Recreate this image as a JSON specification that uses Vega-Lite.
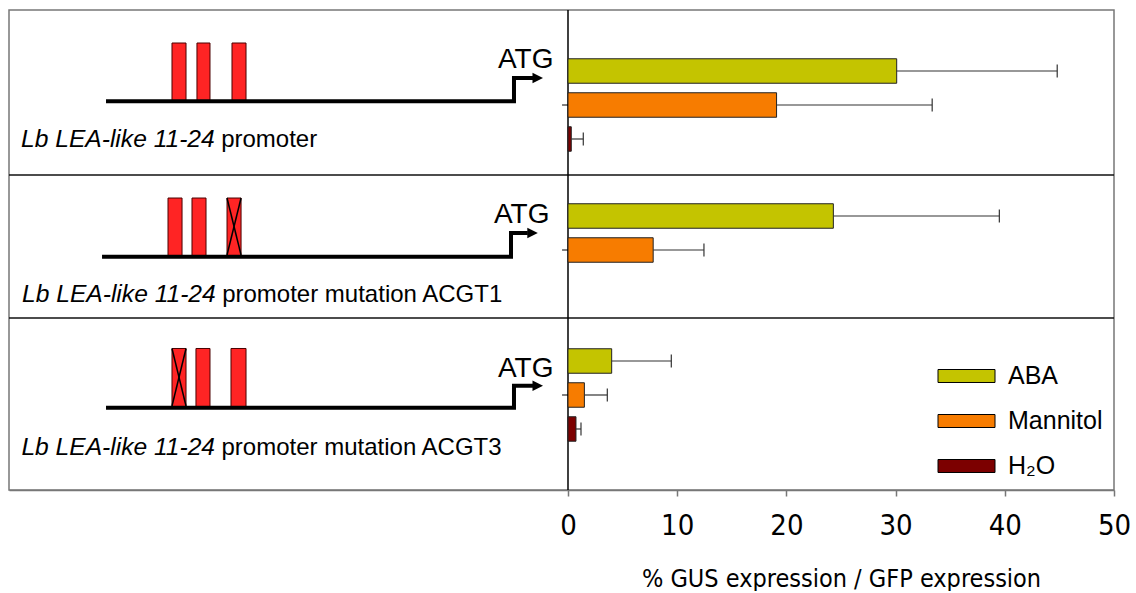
{
  "$schema": "https://vega.github.io/schema/vega-lite/v6.json",
  "width": 1105,
  "height": 480,
  "padding": {"left": 8, "top": 9, "right": 23, "bottom": 0},
  "autosize": {"type": "pad"},
  "background": "white",
  "view": {"stroke": "#777", "strokeWidth": 1.5},
  "config": {"font": "Liberation Sans"},
  "datasets": {
    "expr": [
      {"construct": "WT", "treatment": "ABA", "mean": 30.1, "upper": 44.8},
      {"construct": "WT", "treatment": "Mannitol", "mean": 19.1, "upper": 33.35},
      {"construct": "WT", "treatment": "H2O", "mean": 0.3, "upper": 1.4},
      {"construct": "ACGT1", "treatment": "ABA", "mean": 24.3, "upper": 39.5},
      {"construct": "ACGT1", "treatment": "Mannitol", "mean": 7.8, "upper": 12.45},
      {"construct": "ACGT3", "treatment": "ABA", "mean": 4.0, "upper": 9.46},
      {"construct": "ACGT3", "treatment": "Mannitol", "mean": 1.5, "upper": 3.6},
      {"construct": "ACGT3", "treatment": "H2O", "mean": 0.73, "upper": 1.19}
    ],
    "paths": [
      {"d": "WT", "i": 1, "X": 8.78, "Y": 19.02},
      {"d": "WT", "i": 2, "X": 45.70, "Y": 19.02},
      {"d": "WT", "i": 3, "X": 45.70, "Y": 14.17},
      {"d": "WT", "i": 4, "X": 47.42, "Y": 14.17},
      {"d": "ACGT1", "i": 1, "X": 8.42, "Y": 51.4},
      {"d": "ACGT1", "i": 2, "X": 45.43, "Y": 51.4},
      {"d": "ACGT1", "i": 3, "X": 45.43, "Y": 46.46},
      {"d": "ACGT1", "i": 4, "X": 46.95, "Y": 46.46},
      {"d": "ACGT3", "i": 1, "X": 8.78, "Y": 82.85},
      {"d": "ACGT3", "i": 2, "X": 45.70, "Y": 82.85},
      {"d": "ACGT3", "i": 3, "X": 45.70, "Y": 78.27},
      {"d": "ACGT3", "i": 4, "X": 47.42, "Y": 78.27}
    ],
    "arrows": [
      {"d": "WT", "X": 47.85, "Y": 14.17},
      {"d": "ACGT1", "X": 47.38, "Y": 46.46},
      {"d": "ACGT3", "X": 47.85, "Y": 78.27}
    ],
    "boxes": [
      {"d": "WT", "X1": 14.75, "X2": 16.02, "Y1": 6.875, "Y2": 19.02},
      {"d": "WT", "X1": 17.01, "X2": 18.19, "Y1": 6.875, "Y2": 19.02},
      {"d": "WT", "X1": 20.18, "X2": 21.45, "Y1": 6.875, "Y2": 19.02},
      {"d": "ACGT1", "X1": 14.39, "X2": 15.66, "Y1": 39.17, "Y2": 51.4},
      {"d": "ACGT1", "X1": 16.56, "X2": 17.83, "Y1": 39.17, "Y2": 51.4},
      {"d": "ACGT1", "X1": 19.73, "X2": 21.00, "Y1": 39.17, "Y2": 51.4},
      {"d": "ACGT3", "X1": 14.75, "X2": 16.02, "Y1": 70.52, "Y2": 82.85},
      {"d": "ACGT3", "X1": 16.92, "X2": 18.19, "Y1": 70.52, "Y2": 82.85},
      {"d": "ACGT3", "X1": 20.09, "X2": 21.45, "Y1": 70.52, "Y2": 82.85}
    ],
    "crosses": [
      {"d": "ACGT1", "X1": 19.73, "Y1": 39.17, "X2": 21.00, "Y2": 51.04},
      {"d": "ACGT1", "X1": 21.00, "Y1": 39.17, "X2": 19.73, "Y2": 51.04},
      {"d": "ACGT3", "X1": 14.75, "Y1": 70.52, "X2": 16.02, "Y2": 82.5},
      {"d": "ACGT3", "X1": 16.02, "Y1": 70.52, "X2": 14.75, "Y2": 82.5}
    ],
    "atg": [
      {"d": "WT", "X": 44.25, "Y": 12.08, "t": "ATG"},
      {"d": "ACGT1", "X": 43.89, "Y": 44.44, "t": "ATG"},
      {"d": "ACGT3", "X": 44.25, "Y": 76.40, "t": "ATG"}
    ],
    "italic": [
      {"d": "WT", "X": 1.09, "Y": 28.48, "t": "Lb LEA-like 11-24"},
      {"d": "ACGT1", "X": 1.18, "Y": 60.77, "t": "Lb LEA-like 11-24"},
      {"d": "ACGT3", "X": 1.12, "Y": 92.71, "t": "Lb LEA-like 11-24"}
    ],
    "plain": [
      {"d": "WT", "X": 19.2, "Y": 28.48, "t": "promoter"},
      {"d": "ACGT1", "X": 19.29, "Y": 60.77, "t": "promoter mutation ACGT1"},
      {"d": "ACGT3", "X": 19.23, "Y": 92.71, "t": "promoter mutation ACGT3"}
    ],
    "dividers": [
      {"Y": 34.375},
      {"Y": 64.17}
    ]
  },
  "layer": [
    {
      "layer": [
        {
          "data": {"name": "dividers"},
          "mark": {"type": "rule", "color": "#111", "strokeWidth": 1.5},
          "encoding": {
            "y": {"field": "Y", "type": "quantitative", "scale": {"domain": [0, 100], "reverse": true}, "axis": null}
          }
        },
        {
          "data": {"name": "boxes"},
          "mark": {"type": "rect", "fill": "#FF2424", "stroke": "#4a0000", "strokeWidth": 1},
          "encoding": {
            "x": {"field": "X1", "type": "quantitative", "scale": {"domain": [0, 100]}, "axis": null},
            "x2": {"field": "X2"},
            "y": {"field": "Y1", "type": "quantitative", "scale": {"domain": [0, 100], "reverse": true}, "axis": null},
            "y2": {"field": "Y2"}
          }
        },
        {
          "data": {"name": "crosses"},
          "mark": {"type": "rule", "color": "#000", "strokeWidth": 1.5},
          "encoding": {
            "x": {"field": "X1", "type": "quantitative", "scale": {"domain": [0, 100]}, "axis": null},
            "x2": {"field": "X2"},
            "y": {"field": "Y1", "type": "quantitative", "scale": {"domain": [0, 100], "reverse": true}, "axis": null},
            "y2": {"field": "Y2"}
          }
        },
        {
          "data": {"name": "paths"},
          "mark": {"type": "line", "color": "#000", "strokeWidth": 4, "strokeJoin": "miter", "strokeCap": "butt"},
          "encoding": {
            "x": {"field": "X", "type": "quantitative", "scale": {"domain": [0, 100]}, "axis": null},
            "y": {"field": "Y", "type": "quantitative", "scale": {"domain": [0, 100], "reverse": true}, "axis": null},
            "detail": {"field": "d"},
            "order": {"field": "i", "type": "quantitative"}
          }
        },
        {
          "data": {"name": "arrows"},
          "mark": {"type": "point", "shape": "M-1,-1L1,0L-1,1Z", "size": 110, "filled": true, "color": "#000", "opacity": 1, "strokeWidth": 0},
          "encoding": {
            "x": {"field": "X", "type": "quantitative", "scale": {"domain": [0, 100]}, "axis": null},
            "y": {"field": "Y", "type": "quantitative", "scale": {"domain": [0, 100], "reverse": true}, "axis": null}
          }
        },
        {
          "data": {"name": "atg"},
          "mark": {"type": "text", "align": "left", "baseline": "alphabetic", "fontSize": 28, "font": "Liberation Sans", "color": "#000"},
          "encoding": {
            "x": {"field": "X", "type": "quantitative", "scale": {"domain": [0, 100]}, "axis": null},
            "y": {"field": "Y", "type": "quantitative", "scale": {"domain": [0, 100], "reverse": true}, "axis": null},
            "text": {"field": "t"}
          }
        },
        {
          "data": {"name": "italic"},
          "mark": {"type": "text", "align": "left", "baseline": "alphabetic", "fontSize": 24.6, "fontStyle": "italic", "font": "Liberation Sans", "color": "#000"},
          "encoding": {
            "x": {"field": "X", "type": "quantitative", "scale": {"domain": [0, 100]}, "axis": null},
            "y": {"field": "Y", "type": "quantitative", "scale": {"domain": [0, 100], "reverse": true}, "axis": null},
            "text": {"field": "t"}
          }
        },
        {
          "data": {"name": "plain"},
          "mark": {"type": "text", "align": "left", "baseline": "alphabetic", "fontSize": 24, "font": "Liberation Sans", "color": "#000"},
          "encoding": {
            "x": {"field": "X", "type": "quantitative", "scale": {"domain": [0, 100]}, "axis": null},
            "y": {"field": "Y", "type": "quantitative", "scale": {"domain": [0, 100], "reverse": true}, "axis": null},
            "text": {"field": "t"}
          }
        }
      ]
    },
    {
      "layer": [
        {
          "data": {"values": [{}]},
          "mark": {"type": "rule", "color": "#000", "strokeWidth": 1.5},
          "encoding": {
            "x": {"datum": 0, "type": "quantitative", "scale": {"domain": [-51.19, 50]},
              "axis": {"orient": "bottom", "values": [0, 10, 20, 30, 40, 50], "grid": false, "tickSize": 6, "tickColor": "#777", "tickWidth": 1.5,
                "domainColor": "#777", "domainWidth": 1.5, "labelFlush": false,
                "labelFont": "Liberation Sans Narrow, DejaVu Sans Condensed, Liberation Sans, sans-serif", "labelFontSize": 29, "labelColor": "#000", "labelPadding": 15,
                "title": "% GUS expression / GFP expression", "titleFont": "Liberation Sans Narrow, DejaVu Sans Condensed, Liberation Sans, sans-serif", "titleFontSize": 25,
                "titleFontWeight": "normal", "titleColor": "#000", "titleX": 832, "titleY": 96, "titleAlign": "center", "titleBaseline": "alphabetic", "titleAnchor": "start"}}
          }
        },
        {
          "data": {"name": "expr"},
          "mark": {"type": "bar", "stroke": "#222", "strokeWidth": 1},
          "encoding": {
            "x": {"field": "mean", "type": "quantitative", "scale": {"domain": [-51.19, 50]}},
            "x2": {"datum": 0},
            "y": {"field": "construct", "type": "nominal", "scale": {"domain": ["WT", "ACGT1", "ACGT3"], "paddingInner": 0.2966, "paddingOuter": 0.3035}, "axis": null},
            "yOffset": {"field": "treatment", "type": "nominal", "scale": {"domain": ["ABA", "Mannitol", "H2O"], "paddingInner": 0.28, "paddingOuter": 0.14}},
            "color": {"field": "treatment", "type": "nominal",
              "scale": {"domain": ["ABA", "Mannitol", "H2O"], "range": ["#C4C400", "#F77C00", "#7C0000"]},
              "legend": {"orient": "none", "legendX": 928.5, "legendY": 337, "title": null, "padding": 0,
                "symbolType": "M-1,-0.228H1V0.228H-1Z", "symbolSize": 3249, "symbolStrokeColor": "#000", "symbolStrokeWidth": 1, "symbolOpacity": 1,
                "labelFont": "Liberation Sans", "labelFontSize": 25, "labelColor": "#000", "labelOffset": 12.5, "rowPadding": 3, "labelLimit": 0,
                "labelExpr": "datum.label == 'H2O' ? 'H₂O' : datum.label"}}
          }
        },
        {
          "data": {"name": "expr"},
          "mark": {"type": "rule", "color": "#333", "strokeWidth": 1.2},
          "encoding": {
            "x": {"field": "mean", "type": "quantitative", "scale": {"domain": [-51.19, 50]}},
            "x2": {"field": "upper"},
            "y": {"field": "construct", "type": "nominal", "scale": {"domain": ["WT", "ACGT1", "ACGT3"], "paddingInner": 0.2966, "paddingOuter": 0.3035}, "axis": null},
            "yOffset": {"field": "treatment", "type": "nominal", "scale": {"domain": ["ABA", "Mannitol", "H2O"], "paddingInner": 0.28, "paddingOuter": 0.14}}
          }
        },
        {
          "data": {"name": "expr"},
          "mark": {"type": "tick", "orient": "vertical", "size": 13, "thickness": 1.2, "color": "#333", "opacity": 1},
          "encoding": {
            "x": {"field": "upper", "type": "quantitative", "scale": {"domain": [-51.19, 50]}},
            "y": {"field": "construct", "type": "nominal", "scale": {"domain": ["WT", "ACGT1", "ACGT3"], "paddingInner": 0.2966, "paddingOuter": 0.3035}, "axis": null},
            "yOffset": {"field": "treatment", "type": "nominal", "scale": {"domain": ["ABA", "Mannitol", "H2O"], "paddingInner": 0.28, "paddingOuter": 0.14}}
          }
        },
        {
          "data": {"name": "expr"},
          "transform": [{"filter": "datum.treatment == 'Mannitol'"}],
          "mark": {"type": "tick", "orient": "horizontal", "size": 6, "thickness": 1, "color": "#000", "opacity": 1},
          "encoding": {
            "x": {"datum": -0.27, "type": "quantitative", "scale": {"domain": [-51.19, 50]}},
            "y": {"field": "construct", "type": "nominal", "scale": {"domain": ["WT", "ACGT1", "ACGT3"], "paddingInner": 0.2966, "paddingOuter": 0.3035}, "axis": null}
          }
        }
      ]
    }
  ],
  "resolve": {"scale": {"x": "independent", "y": "independent", "color": "independent"}}
}
